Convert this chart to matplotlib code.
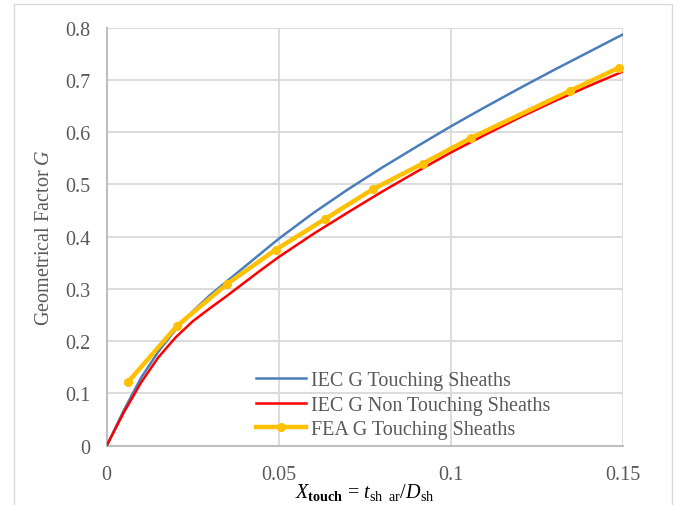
import matplotlib
matplotlib.use('Agg')
import matplotlib.pyplot as plt
from matplotlib.patches import Rectangle

plt.rcParams['font.family'] = ['Liberation Serif', 'DejaVu Serif']
plt.rcParams['mathtext.fontset'] = 'custom'
plt.rcParams['mathtext.rm'] = 'Liberation Serif'
plt.rcParams['mathtext.it'] = 'Liberation Serif:italic'
plt.rcParams['mathtext.bf'] = 'Liberation Serif:bold'

# IEC G, touching sheaths
x_iec = [0, 0.005, 0.01, 0.015, 0.02, 0.025, 0.03, 0.035, 0.04, 0.045, 0.05,
         0.06, 0.07, 0.08, 0.09, 0.10, 0.11, 0.12, 0.13, 0.14, 0.15]
g_touch = [0, 0.068, 0.130, 0.180, 0.222, 0.257, 0.288, 0.315, 0.342, 0.369, 0.396,
           0.445, 0.490, 0.532, 0.572, 0.611, 0.648, 0.684, 0.719, 0.753, 0.787]
# IEC G, non touching sheaths
g_nontouch = [0, 0.064, 0.121, 0.169, 0.207, 0.238, 0.263, 0.287, 0.312, 0.337, 0.361,
              0.405, 0.446, 0.486, 0.524, 0.561, 0.595, 0.628, 0.659, 0.688, 0.716]
# FEA G, touching sheaths
x_fea = [0.0062, 0.0204, 0.0349, 0.0491, 0.0635, 0.0774, 0.0919, 0.1059, 0.1346, 0.1488]
g_fea = [0.122, 0.229, 0.309, 0.375, 0.434, 0.491, 0.540, 0.589, 0.679, 0.723]

xticks = [0, 0.05, 0.1, 0.15]
xtick_labels = ['0', '0.05', '0.1', '0.15']
yticks = [0, 0.1, 0.2, 0.3, 0.4, 0.5, 0.6, 0.7, 0.8]
ytick_labels = ['0', '0.1', '0.2', '0.3', '0.4', '0.5', '0.6', '0.7', '0.8']

fig = plt.figure(figsize=(6.87, 5.06), dpi=100)
ax = fig.add_axes([0.1553, 0.1172, 0.7511, 0.8261])

# chart area border
fig.patches.append(Rectangle((0.0204, -0.02), 0.958, 1.0101, transform=fig.transFigure,
                             fill=False, edgecolor='#D9D9D9', linewidth=1.0))

ax.plot(x_iec, g_touch, color='#4A7EBB', lw=1.8, label='IEC G Touching Sheaths', zorder=3)
ax.plot(x_iec, g_nontouch, color='#FF0000', lw=1.8, label='IEC G Non Touching Sheaths', zorder=4)
ax.plot(x_fea, g_fea, color='#FFC000', lw=3.2, marker='o', markersize=5.5,
        label='FEA G Touching Sheaths', zorder=5)

ax.set_xlim(0, 0.15)
ax.set_ylim(0, 0.8)
ax.set_xticks(xticks)
ax.set_xticklabels(xtick_labels)
ax.set_yticks(yticks)
ax.set_yticklabels(ytick_labels)
ax.tick_params(length=0, labelsize=14.5, labelcolor='#595959')
ax.tick_params(axis='x', pad=14)
ax.tick_params(axis='y', pad=12)

ax.grid(True, color='#D9D9D9', lw=1.3)
ax.set_axisbelow(True)
for s in ['top', 'right']:
    ax.spines[s].set_visible(False)
for s in ['left', 'bottom']:
    ax.spines[s].set_color('#BFBFBF')
    ax.spines[s].set_linewidth(1.5)

ax.set_ylabel('Geometrical Factor $G$', fontsize=14.5, color='#595959', labelpad=8)
ax.set_xlabel(r'$X_{\mathbf{touch}}$ = $t_{\mathrm{sh\ \ ar}}$/$D_{\mathrm{sh}}$',
              fontsize=14.5, color='black', labelpad=-2)

ax.legend(loc='center left', bbox_to_anchor=(0.289, 0.097), frameon=False,
          fontsize=14.5, handlelength=2.5, handletextpad=0.25, labelspacing=0.28,
          borderpad=0, borderaxespad=0, labelcolor='#595959')

fig.savefig('out.png', dpi=100)
